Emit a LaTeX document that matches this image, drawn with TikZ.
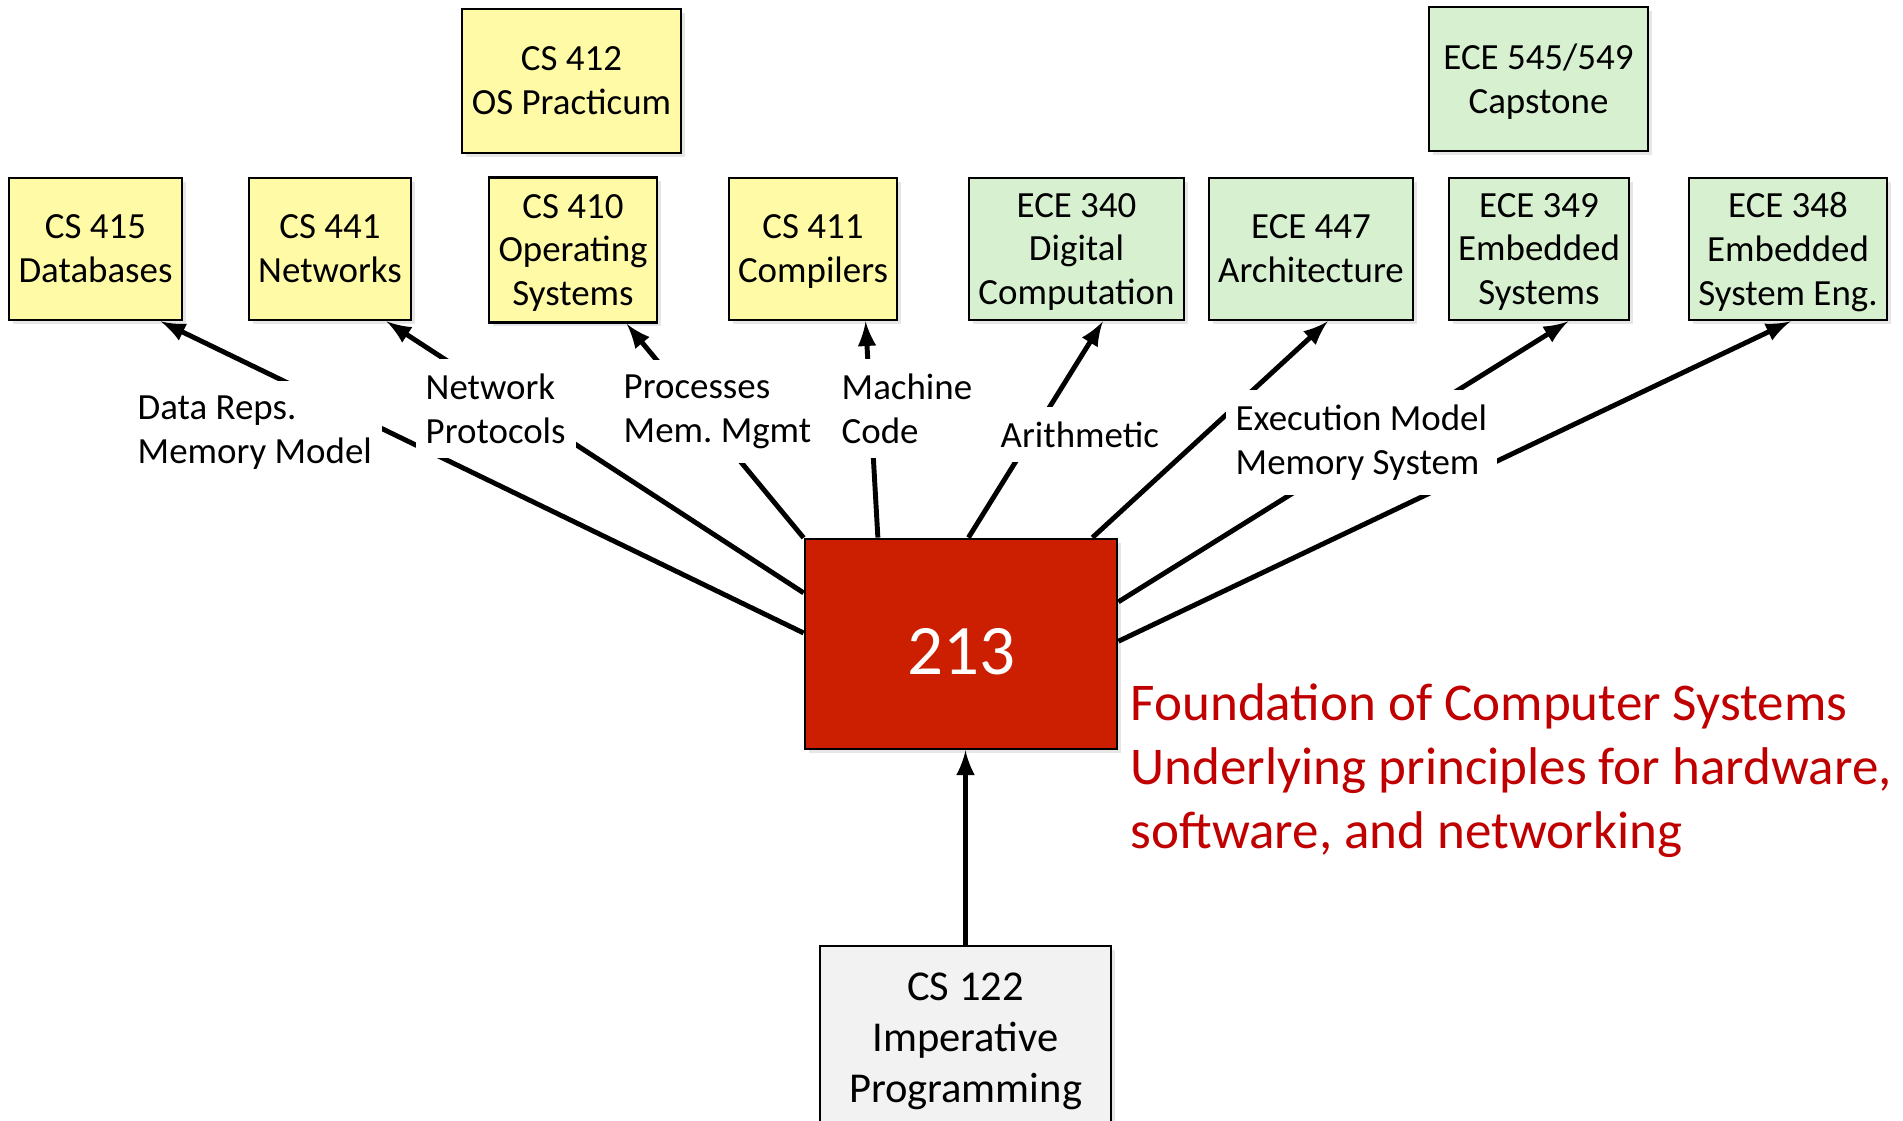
\documentclass[tikz,border=0pt]{standalone}
\usepackage{fontspec}
\setmainfont{Carlito}
\usetikzlibrary{shadows}
\definecolor{csyellow}{RGB}{255,250,165}
\definecolor{ecegreen}{RGB}{214,240,208}
\definecolor{boxred}{RGB}{204,30,0}
\definecolor{textred}{RGB}{192,0,0}
\definecolor{cbgray}{RGB}{242,242,242}

\begin{document}
\begin{tikzpicture}[
    course/.style={draw, line width=0.8pt, align=center, inner sep=0pt, minimum height=1.42cm,
        font=\fontsize{10.5}{12.5}\selectfont, text depth=-0.07cm,
        drop shadow={shadow xshift=0.04cm, shadow yshift=-0.04cm, opacity=0.2}},
    cs/.style={course, fill=csyellow},
    ece/.style={course, fill=ecegreen},
    link/.style={-latex, line width=1.4pt},
    topic/.style={anchor=west, fill=white, align=left, inner xsep=0.1cm, inner ysep=0.15cm,
        font=\fontsize{10.5}{12.5}\selectfont}]
    \useasboundingbox (0,0) rectangle (19.03,11.2);

    % upper level courses
    \node[cs, minimum width=1.73cm] (c415) at (0.955,8.71) {CS 415\\Databases};
    \node[cs, minimum width=1.62cm] (c441) at (3.30,8.71) {CS 441\\Networks};
    \node[cs, minimum width=1.68cm, minimum height=1.45cm] (c410) at (5.73,8.70) {CS 410\\Operating\\Systems};
    \node[cs, minimum width=2.19cm, minimum height=1.44cm] (c412) at (5.715,10.39) {CS 412\\OS Practicum};
    \node[cs, minimum width=1.68cm] (c411) at (8.13,8.71) {CS 411\\Compilers};
    \node[ece, minimum width=2.15cm] (e340) at (10.765,8.71) {ECE 340\\Digital\\Computation};
    \node[ece, minimum width=2.04cm] (e447) at (13.11,8.71) {ECE 447\\Architecture};
    \node[ece, minimum width=2.19cm, minimum height=1.44cm] (e545) at (15.385,10.41) {ECE 545/549\\Capstone};
    \node[ece, minimum width=1.80cm] (e349) at (15.39,8.71) {ECE 349\\Embedded\\Systems};
    \node[ece, minimum width=1.98cm] (e348) at (17.88,8.71) {ECE 348\\Embedded\\System Eng.};

    % the course itself and its prerequisite
    \node[draw, line width=0.8pt, fill=boxred, text=white, minimum width=3.12cm, minimum height=2.1cm,
        font=\fontsize{20.2}{24}\selectfont, text height=0.61cm, text depth=0pt,
        drop shadow={shadow xshift=0.04cm, shadow yshift=-0.04cm, opacity=0.2}] (c213) at (9.61,4.76) {213};
    \node[course, fill=cbgray, minimum width=2.91cm, minimum height=1.9cm, text depth={},
        font=\fontsize{12.1}{14.5}\selectfont] (c122) at (9.655,0.79) {CS 122\\Imperative\\Programming};
    \node[anchor=west, inner sep=0pt, align=left, text=textred, font=\fontsize{15.1}{18.2}\selectfont]
        (about) at (11.30,3.495) {Foundation of Computer Systems\\Underlying principles for hardware,\\software, and networking};

    \draw[link] (c122.north) -- (c122.north |- c213.south);
    \draw[link] (c213.176) -- (c415.-48);
    \draw[link] (c213.162.6) -- (c441.-52);
    \draw[link] (c213.146.5) -- (c410.-54);
    \draw[link] (c213.128.7) -- (c411.-54.5);
    \draw[link] (c213.86) -- (e340.-70);
    \draw[link] (c213.39.4) -- (e447.-77.4);
    \draw[link] (c213.15) -- (e349.-68.5);
    \draw[link] (c213.1) -- (e348.-88.4);

    % what each link carries
    \node[topic] (reps) at (1.27,6.87) {Data Reps.\\Memory Model};
    \node[topic] (proto) at (4.15,7.115) {Network\\Protocols};
    \node[topic] (procs) at (6.13,7.085) {Processes\\Mem.\ Mgmt};
    \node[topic] (mcode) at (8.31,7.115) {Machine\\Code};
    \node[topic] (arith) at (9.90,6.855) {Arithmetic};
    \node[topic] (exec) at (12.25,6.775) {Execution Model\\Memory System};
\end{tikzpicture}
\end{document}
